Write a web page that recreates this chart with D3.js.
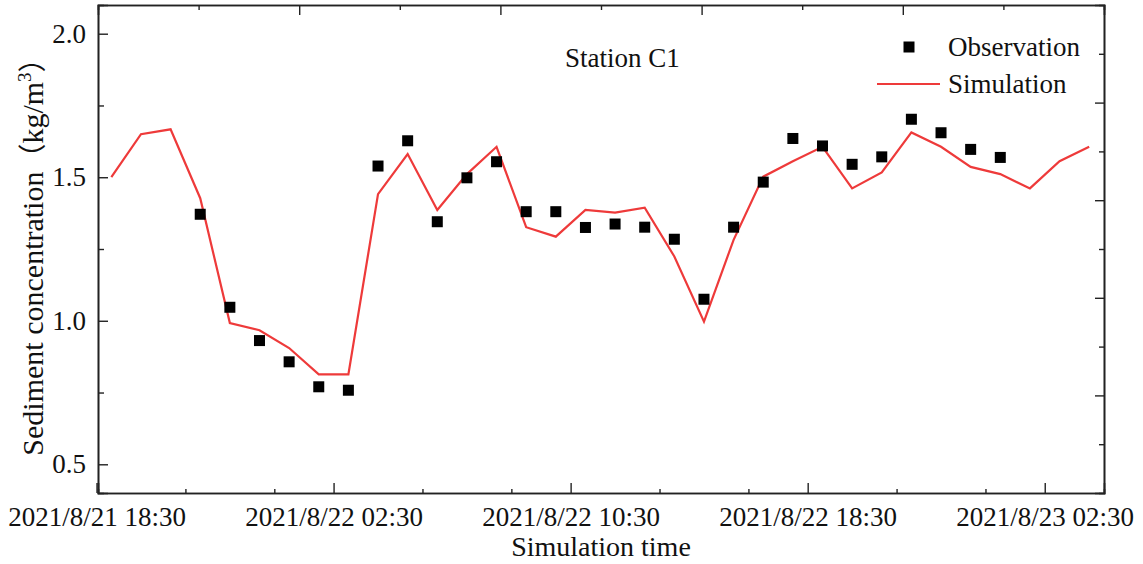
<!DOCTYPE html>
<html>
<head>
<meta charset="utf-8">
<script src="https://cdn.jsdelivr.net/npm/d3@7"></script>
<style>
  html, body { margin: 0; padding: 0; background: #fff; }
  svg { display: block; }
  text { font-family: "Liberation Serif", "Times New Roman", serif; fill: #111; }
</style>
</head>
<body>
<svg id="chart" width="1143" height="564"></svg>
<script>
// Hourly simulated sediment concentration (kg/m3)
const simTimes = [
  "2021-08-21T19:00", "2021-08-21T20:00", "2021-08-21T21:00", "2021-08-21T22:00",
  "2021-08-21T23:00", "2021-08-22T00:00", "2021-08-22T01:00", "2021-08-22T02:00",
  "2021-08-22T03:00", "2021-08-22T04:00", "2021-08-22T05:00", "2021-08-22T06:00",
  "2021-08-22T07:00", "2021-08-22T08:00", "2021-08-22T09:00", "2021-08-22T10:00",
  "2021-08-22T11:00", "2021-08-22T12:00", "2021-08-22T13:00", "2021-08-22T14:00",
  "2021-08-22T15:00", "2021-08-22T16:00", "2021-08-22T17:00", "2021-08-22T18:00",
  "2021-08-22T19:00", "2021-08-22T20:00", "2021-08-22T21:00", "2021-08-22T22:00",
  "2021-08-22T23:00", "2021-08-23T00:00", "2021-08-23T01:00", "2021-08-23T02:00",
  "2021-08-23T03:00", "2021-08-23T04:00"
];
const simValues = [
  1.50, 1.65, 1.667, 1.427, 0.992, 0.967, 0.905, 0.813,
  0.813, 1.441, 1.581, 1.386, 1.511, 1.606, 1.326, 1.293,
  1.386, 1.377, 1.394, 1.224, 0.997, 1.282, 1.502, 1.556,
  1.606, 1.461, 1.517, 1.656, 1.606, 1.536, 1.511, 1.461,
  1.556, 1.606
];

// Measured sediment concentration at the station (kg/m3)
const obsTimes = [
  "2021-08-21T22:00", "2021-08-21T23:00", "2021-08-22T00:00", "2021-08-22T01:00",
  "2021-08-22T02:00", "2021-08-22T03:00", "2021-08-22T04:00", "2021-08-22T05:00",
  "2021-08-22T06:00", "2021-08-22T07:00", "2021-08-22T08:00", "2021-08-22T09:00",
  "2021-08-22T10:00", "2021-08-22T11:00", "2021-08-22T12:00", "2021-08-22T13:00",
  "2021-08-22T14:00", "2021-08-22T15:00", "2021-08-22T16:00", "2021-08-22T17:00",
  "2021-08-22T18:00", "2021-08-22T19:00", "2021-08-22T20:00", "2021-08-22T21:00",
  "2021-08-22T22:00", "2021-08-22T23:00", "2021-08-23T00:00", "2021-08-23T01:00"
];
const obsValues = [
  1.371, 1.047, 0.931, 0.857, 0.770, 0.758, 1.539, 1.627,
  1.345, 1.498, 1.554, 1.380, 1.380, 1.325, 1.337, 1.326,
  1.284, 1.075, 1.326, 1.483, 1.635, 1.609, 1.545, 1.571,
  1.702, 1.655, 1.597, 1.569
];

// Axis ticks
const xMajorTicks = ["2021-08-21T18:30", "2021-08-22T02:30", "2021-08-22T10:30", "2021-08-22T18:30", "2021-08-23T02:30"];
const xMajorLabels = ["2021/8/21 18:30", "2021/8/22 02:30", "2021/8/22 10:30", "2021/8/22 18:30", "2021/8/23 02:30"];
const xMinorTicks = ["2021-08-21T21:30", "2021-08-22T00:30", "2021-08-22T05:30", "2021-08-22T08:30",
                     "2021-08-22T13:30", "2021-08-22T16:30", "2021-08-22T21:30", "2021-08-23T00:30"];
const yMajorTicks = [0.5, 1.0, 1.5, 2.0];
const yMinorTicks = [0.75, 1.25, 1.75];
const xDomain = ["2021-08-21T18:33", "2021-08-23T04:30"];
const yDomain = [0.4, 2.1];

const parse = d3.timeParse("%Y-%m-%dT%H:%M");

const W = 1143, H = 564;
const m = { left: 98, right: 39, top: 5, bottom: 71 };
const svg = d3.select("#chart");

const x = d3.scaleTime().domain(xDomain.map(parse)).range([m.left, W - m.right]);
const y = d3.scaleLinear().domain(yDomain).range([H - m.bottom, m.top]);

const axisColor = "#222";
const red = "#ee3a3a";

// Bottom axis: labelled major ticks plus unlabelled minor ticks
svg.append("g").attr("transform", `translate(0,${H - m.bottom})`)
  .call(d3.axisBottom(x)
    .tickValues(xMajorTicks.map(parse))
    .tickFormat((d, i) => xMajorLabels[i])
    .tickSize(-10).tickPadding(14));
svg.append("g").attr("transform", `translate(0,${H - m.bottom})`)
  .call(d3.axisBottom(x).tickValues(xMinorTicks.map(parse)).tickFormat("").tickSize(-4));

// Left axis
svg.append("g").attr("transform", `translate(${m.left},0)`)
  .call(d3.axisLeft(y).tickValues(yMajorTicks).tickFormat(d3.format(".1f"))
    .tickSize(-10).tickPadding(12));
svg.append("g").attr("transform", `translate(${m.left},0)`)
  .call(d3.axisLeft(y).tickValues(yMinorTicks).tickFormat("").tickSize(-6));

// Top and right frame axes with evenly spaced ticks
const topScale = d3.scaleLinear().domain([0, 10]).range([m.left, W - m.right]);
const rightScale = d3.scaleLinear().domain([0, 10]).range([H - m.bottom, m.top]);
svg.append("g").attr("transform", `translate(0,${m.top})`)
  .call(d3.axisTop(topScale).tickValues([2, 4, 6, 8]).tickFormat("").tickSize(-10));
svg.append("g").attr("transform", `translate(0,${m.top})`)
  .call(d3.axisTop(topScale).tickValues([1, 3, 5, 7, 9]).tickFormat("").tickSize(-5));
svg.append("g").attr("transform", `translate(${W - m.right},0)`)
  .call(d3.axisRight(rightScale).tickValues([2, 4, 6, 8]).tickFormat("").tickSize(-9));
svg.append("g").attr("transform", `translate(${W - m.right},0)`)
  .call(d3.axisRight(rightScale).tickValues([1, 3, 5, 7, 9]).tickFormat("").tickSize(-5));

svg.selectAll(".domain").attr("stroke", axisColor).attr("stroke-width", 1.6);
svg.selectAll(".tick line").attr("stroke", axisColor).attr("stroke-width", 1.4);
svg.selectAll(".tick text").attr("font-family", "Liberation Serif").attr("font-size", 27).attr("fill", "#111");

// Simulated series
const sim = simTimes.map((t, i) => ({ t: parse(t), v: simValues[i] }));
svg.append("path")
  .datum(sim)
  .attr("fill", "none")
  .attr("stroke", red)
  .attr("stroke-width", 2.2)
  .attr("d", d3.line().x(d => x(d.t)).y(d => y(d.v)));

// Observed series
const obs = obsTimes.map((t, i) => ({ t: parse(t), v: obsValues[i] }));
const sq = 11;
svg.append("g").selectAll("rect")
  .data(obs).join("rect")
  .attr("x", d => x(d.t) - sq / 2)
  .attr("y", d => y(d.v) - sq / 2)
  .attr("width", sq).attr("height", sq)
  .attr("fill", "#000");

// Axis titles
svg.append("text")
  .attr("x", (m.left + W - m.right) / 2).attr("y", 556)
  .attr("text-anchor", "middle").attr("font-size", 28)
  .text("Simulation time");

const cjk = "'Noto Sans CJK SC', 'Liberation Serif', serif";
const yt = svg.append("text")
  .attr("transform", "translate(43,250) rotate(-90)")
  .attr("text-anchor", "middle").attr("font-size", 30);
yt.append("tspan").text("Sediment concentration");
yt.append("tspan").attr("font-family", cjk).attr("font-size", 28).text("（");
yt.append("tspan").text("kg/m");
yt.append("tspan").attr("font-size", 19).attr("dy", -12).text("3");
yt.append("tspan").attr("dy", 12).attr("font-family", cjk).attr("font-size", 28).text("）");

// Station name
svg.append("text")
  .attr("x", 565).attr("y", 67).attr("font-size", 27)
  .text("Station C1");

// Legend
const lg = svg.append("g");
lg.append("rect").attr("x", 909 - sq / 2).attr("y", 47 - sq / 2).attr("width", sq).attr("height", sq).attr("fill", "#000");
lg.append("text").attr("x", 948).attr("y", 56).attr("font-size", 27).text("Observation");
lg.append("line").attr("x1", 877).attr("x2", 940).attr("y1", 84).attr("y2", 84)
  .attr("stroke", red).attr("stroke-width", 2.2);
lg.append("text").attr("x", 948).attr("y", 93).attr("font-size", 27).text("Simulation");
</script>
</body>
</html>
